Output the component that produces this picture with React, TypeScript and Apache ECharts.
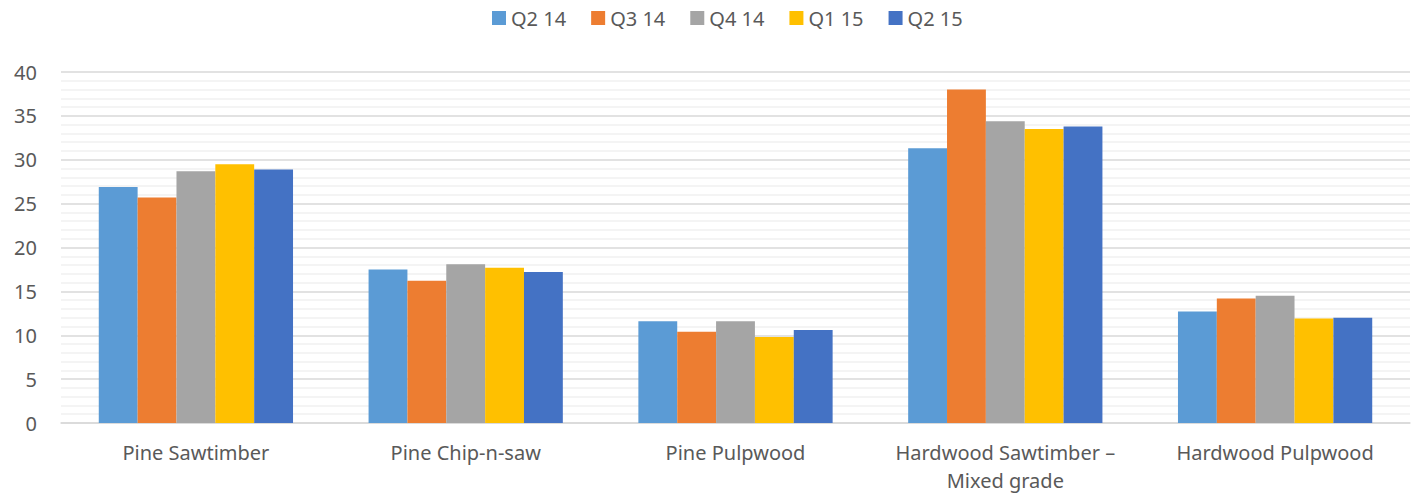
import React, { useEffect, useRef } from "react";
import * as echarts from "echarts";

const categories = [
  "Pine Sawtimber",
  "Pine Chip-n-saw",
  "Pine Pulpwood",
  "Hardwood Sawtimber –\nMixed grade",
  "Hardwood Pulpwood",
];
const seriesNames = ["Q2 14", "Q3 14", "Q4 14", "Q1 15", "Q2 15"];
const colors = ["#5B9BD5", "#ED7D31", "#A5A5A5", "#FFC000", "#4472C4"];
const q2_14 = [26.9, 17.5, 11.6, 31.3, 12.7];
const q3_14 = [25.7, 16.2, 10.4, 38.0, 14.2];
const q4_14 = [28.7, 18.1, 11.6, 34.4, 14.5];
const q1_15 = [29.5, 17.7, 9.8, 33.5, 11.9];
const q2_15 = [28.9, 17.2, 10.6, 33.8, 12.0];
const seriesData = [q2_14, q3_14, q4_14, q1_15, q2_15];

const FONT = "'Noto Sans', 'Open Sans', sans-serif";

export default function App() {
  const ref = useRef<HTMLDivElement>(null);
  useEffect(() => {
    document.body.style.margin = "0";
    const chart = echarts.init(ref.current!, null, { renderer: "svg" });
    chart.setOption({
      animation: false,
      legend: {
        top: 3,
        left: 487,
        itemWidth: 14,
        itemHeight: 14,
        itemGap: 25,
        icon: "rect",
        textStyle: { fontSize: 20, color: "#595959", fontFamily: FONT },
        data: seriesNames,
      },
      grid: { left: 61, right: 9, top: 72, bottom: 72, outerBoundsMode: "none", containLabel: false },
      xAxis: {
        type: "category",
        data: categories,
        axisLine: { lineStyle: { color: "#d9d9d9", width: 1.5 } },
        axisTick: { show: false },
        axisLabel: {
          interval: 0,
          fontSize: 20,
          color: "#595959",
          fontFamily: FONT,
          margin: 15,
          lineHeight: 28,
        },
      },
      yAxis: {
        type: "value",
        min: 0,
        max: 40,
        interval: 5,
        axisLine: { show: false },
        axisTick: { show: false },
        axisLabel: { fontSize: 20, color: "#595959", fontFamily: FONT, margin: 24 },
        splitLine: { lineStyle: { color: "#d9d9d9", width: 1.5 } },
        minorTick: { show: false, splitNumber: 5 },
        minorSplitLine: { show: true, lineStyle: { color: "#f0f0f0", width: 1.5 } },
      },
      series: seriesNames.map((name, i) => ({
        name,
        type: "bar",
        data: seriesData[i],
        barGap: "0%",
        barCategoryGap: "28%",
        itemStyle: { color: colors[i] },
      })),
    });
    return () => chart.dispose();
  }, []);
  return (
    <div
      ref={ref}
      style={{ position: "absolute", left: 0, top: 0, width: 1419, height: 495 }}
    />
  );
}
